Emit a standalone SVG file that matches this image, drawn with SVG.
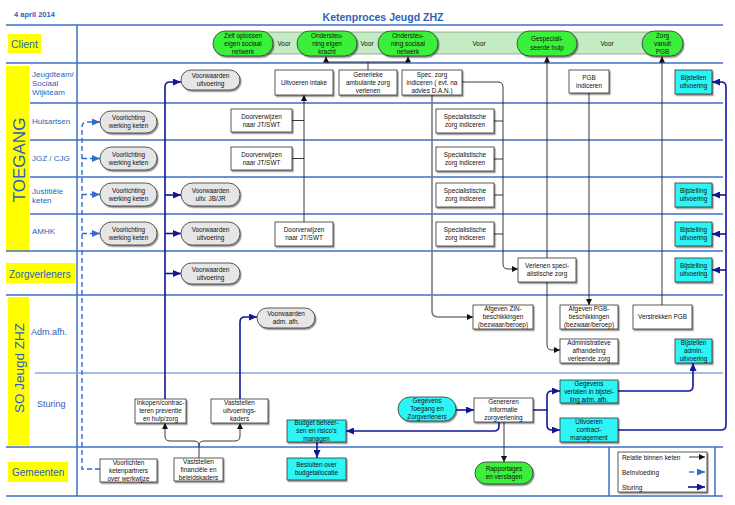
<svg xmlns="http://www.w3.org/2000/svg" width="735" height="505" viewBox="0 0 735 505">
<style>
.lane{stroke:#3f70c6;stroke-width:1.5;fill:none}
.lane2{stroke:#86a8df;stroke-width:1.3;fill:none}
.lbl{font-family:"Liberation Sans",Arial,sans-serif;fill:#2d5fb8}
.box{fill:#fff;stroke:#333;stroke-width:0.8;filter:url(#sh)}
.gray{fill:#e6e6e6;stroke:#333;stroke-width:0.8;filter:url(#sh)}
.cyan{fill:#2ef5f5;stroke:#333;stroke-width:0.8;filter:url(#sh)}
.green{fill:#3bf03b;stroke:#333;stroke-width:0.8;filter:url(#sh)}
.t{font-family:"Liberation Sans",Arial,sans-serif;font-size:6.4px;text-anchor:middle;fill:#111}
.ts{font-family:"Liberation Sans",Arial,sans-serif;font-size:6.4px;text-anchor:start;fill:#111}
.blk{stroke:#222;stroke-width:0.9;fill:none}
.gry{stroke:#7a7a7a;stroke-width:1.6;fill:none}
.nav{stroke:#12169a;stroke-width:1.6;fill:none}
.dsh{stroke:#2f6cc9;stroke-width:1.4;stroke-dasharray:5 3;fill:none}
</style>
<defs>
<filter id="sh" x="-10%" y="-10%" width="130%" height="140%"><feDropShadow dx="1.2" dy="1.5" stdDeviation="0.7" flood-color="#000" flood-opacity="0.45"/></filter>
<marker id="ab" markerUnits="userSpaceOnUse" markerWidth="6" markerHeight="6" refX="6" refY="3" orient="auto"><path d="M0,0 L6,3 L0,6 z" fill="#111"/></marker>
<marker id="an" markerUnits="userSpaceOnUse" markerWidth="8" markerHeight="7" refX="8" refY="3.5" orient="auto"><path d="M0,0 L8,3.5 L0,7 z" fill="#12169a"/></marker>
<marker id="ad" markerUnits="userSpaceOnUse" markerWidth="8" markerHeight="7" refX="8" refY="3.5" orient="auto"><path d="M0,0 L8,3.5 L0,7 z" fill="#2f6cc9"/></marker>
</defs>
<rect width="735" height="505" fill="#fff"/>

<!-- titles -->
<text class="lbl" x="14" y="17" font-size="7.5" font-weight="bold">4 april 2014</text>
<text class="lbl" x="383" y="20.5" font-size="10.5" font-weight="bold" text-anchor="middle">Ketenproces Jeugd ZHZ</text>

<!-- yellow label areas -->
<g id="lane-labels">
<rect x="8" y="34" width="33" height="19" fill="#ffff00"/>
<text class="lbl" x="11" y="47.5" font-size="10.5">Client</text>
<rect x="6" y="66" width="23" height="185" fill="#ffff00"/>
<text class="lbl" transform="translate(24.5,160) rotate(-90)" font-size="17" text-anchor="middle">TOEGANG</text>
<rect x="6" y="263" width="69" height="20" fill="#ffff00"/>
<text class="lbl" x="9" y="277.5" font-size="10">Zorgverleners</text>
<rect x="8" y="297" width="21" height="148" fill="#ffff00"/>
<text class="lbl" transform="translate(24,368) rotate(-90)" font-size="13.5" text-anchor="middle">SO Jeugd ZHZ</text>
<rect x="8" y="462" width="60" height="20" fill="#ffff00"/>
<text class="lbl" x="12" y="476" font-size="10">Gemeenten</text>
<text class="lbl" font-size="8"><tspan x="32" y="77">Jeugdteam/</tspan><tspan x="32" y="86">Sociaal</tspan><tspan x="32" y="95">Wijkteam</tspan></text>
<text class="lbl" x="32" y="124" font-size="8">Huisartsen</text>
<text class="lbl" x="32" y="161" font-size="8">JGZ / CJG</text>
<text class="lbl" font-size="8"><tspan x="32" y="194">Justitiële</tspan><tspan x="32" y="203">keten</tspan></text>
<text class="lbl" x="32" y="234" font-size="8">AMHK</text>
<text class="lbl" x="31" y="335" font-size="9">Adm.afh.</text>
<text class="lbl" x="37" y="407" font-size="9">Sturing</text>
</g>

<!-- grid -->
<g id="grid">
<path class="lane" d="M6,25 H723 M6,63 H723 M30,103 H723 M30,140 H723 M30,177 H723 M30,214 H723 M6,251 H723 M6,295 H723 M6,447 H723 M6,496 H723 M77,25 V496 M609,447 V496 M715,447 V496"/>
<path class="lane2" d="M35,373 H723"/>
</g>

<!-- client band -->
<g id="client-band">
<rect x="243" y="32" width="420" height="22" fill="#c3ecc3" stroke="#777" stroke-width="0.6"/>
<text class="t" x="284" y="45.5">Voor</text>
<text class="t" x="367" y="45.5">Voor</text>
<text class="t" x="479" y="45.5">Voor</text>
<text class="t" x="607" y="45.5">Voor</text>
</g>
<g id="c1"><rect class="green" x="213" y="31" width="60" height="25" rx="12.5"/><text class="t"><tspan x="243" y="37.8">Zelf oplossen</tspan><tspan x="243" y="45.8">eigen sociaal</tspan><tspan x="243" y="53.8">netwerk</tspan></text></g>
<g id="c2"><rect class="green" x="297" y="31" width="60" height="25" rx="12.5"/><text class="t"><tspan x="327" y="37.8">Ondersteu-</tspan><tspan x="327" y="45.8">ning eigen</tspan><tspan x="327" y="53.8">kracht</tspan></text></g>
<g id="c3"><rect class="green" x="378" y="31" width="60" height="25" rx="12.5"/><text class="t"><tspan x="408" y="37.8">Ondersteu-</tspan><tspan x="408" y="45.8">ning sociaal</tspan><tspan x="408" y="53.8">netwerk</tspan></text></g>
<g id="c4"><rect class="green" x="517" y="31" width="60" height="25" rx="12.5"/><text class="t"><tspan x="547" y="41">Gespeciali-</tspan><tspan x="547" y="49.5">seerde hulp</tspan></text></g>
<g id="c5"><rect class="green" x="642" y="31" width="41" height="25" rx="12.5"/><text class="t"><tspan x="662.5" y="37.8">Zorg</tspan><tspan x="662.5" y="45.8">vanuit</tspan><tspan x="662.5" y="53.8">PGB</tspan></text></g>

<!-- connectors -->
<g id="connectors">
<path class="blk" d="M368,70 V62"/>
<path class="blk" d="M368,62 H326 V56.5" marker-end="url(#ab)"/>
<path class="blk" d="M368,62 H408 V56.5" marker-end="url(#ab)"/>
<path class="blk" d="M304,222 V95" marker-end="url(#ab)"/>
<path class="blk" d="M292,120.5 H304 M292,158.5 H304"/>
<path class="gry" d="M432,95 V311 Q432,317 438,317 H473" marker-end="url(#ab)"/>
<path class="blk" d="M462,82 H498 Q503,82 503,87 V264 Q503,269 508,269 H518" marker-end="url(#ab)"/>
<path class="blk" d="M494,121 H503 M494,159 H503 M494,195 H503 M494,234 H503"/>
<path class="blk" d="M547,258 V56.5" marker-end="url(#ab)"/>
<path class="blk" d="M547,282 V345 Q547,350 552,350 H560" marker-end="url(#ab)"/>
<path class="blk" d="M589,93 V305" marker-end="url(#ab)"/>
<path class="blk" d="M662,305 V56.5" marker-end="url(#ab)"/>
<path class="blk" d="M199,458 V446 Q199,441 194,441 H170 Q165,441 165,436 V423" marker-end="url(#ab)"/>
<path class="blk" d="M199,446 Q199,441 204,441 H235 Q240,441 240,436 V423" marker-end="url(#ab)"/>
<path class="blk" d="M504,422 V462" marker-end="url(#ab)"/>

<path class="nav" d="M165,399 V87 Q165,82 170,82 H181" marker-end="url(#an)"/>
<path class="nav" d="M165,195 H181" marker-end="url(#an)"/>
<path class="nav" d="M165,233.5 H181" marker-end="url(#an)"/>
<path class="nav" d="M165,273.5 H181" marker-end="url(#an)"/>
<path class="nav" d="M240,399 V322 Q240,317 245,317 H257" marker-end="url(#an)"/>
<path class="nav" d="M456,410 H474" marker-end="url(#an)"/>
<path class="nav" d="M499,422 V426 Q499,431 494,431 H346" marker-end="url(#an)"/>
<path class="nav" d="M533,410 H547 V396 Q547,391 552,391 H560" marker-end="url(#an)"/>
<path class="nav" d="M547,410 V425 Q547,430 552,430 H560" marker-end="url(#an)"/>
<path class="nav" d="M618,391 H688 Q693,391 693,386 V363" marker-end="url(#an)"/>
<path class="nav" d="M618,430 H721 Q726,430 726,425 V87 Q726,82 721,82 H712" marker-end="url(#an)"/>
<path class="nav" d="M726,195 H712" marker-end="url(#an)"/>
<path class="nav" d="M726,234 H712" marker-end="url(#an)"/>
<path class="nav" d="M726,270 H712" marker-end="url(#an)"/>
<path class="nav" d="M317,442 V458" marker-end="url(#an)"/>

<path class="dsh" d="M100,469 H82 V127 Q82,122 87,122 H100" marker-end="url(#ad)"/>
<path class="dsh" d="M82,158.5 H100" marker-end="url(#ad)"/>
<path class="dsh" d="M82,194.5 H100" marker-end="url(#ad)"/>
<path class="dsh" d="M82,233.5 H100" marker-end="url(#ad)"/>
</g>

<!-- Jeugdteam row -->
<g id="vw-jt"><rect class="gray" x="181" y="70" width="59" height="20" rx="10"/><text class="t"><tspan x="210.5" y="78.3">Voorwaarden</tspan><tspan x="210.5" y="86.3">uitvoering</tspan></text></g>
<g id="intake"><rect class="box" x="275" y="70" width="58" height="25"/><text class="t" x="304" y="84.8">Uitvoeren intake</text></g>
<g id="generiek"><rect class="box" x="339" y="70" width="58" height="25"/><text class="t"><tspan x="368" y="76.8">Generieke</tspan><tspan x="368" y="84.8">ambulante zorg</tspan><tspan x="368" y="92.8">verlenen</tspan></text></g>
<g id="spec"><rect class="box" x="402" y="70" width="60" height="25"/><text class="t"><tspan x="432" y="76.8">Spec. zorg</tspan><tspan x="432" y="84.8">indiceren ( evt. na</tspan><tspan x="432" y="92.8">advies D.A.N.)</tspan></text></g>
<g id="pgb-ind"><rect class="box" x="569" y="70" width="40" height="23"/><text class="t"><tspan x="589" y="79.8">PGB</tspan><tspan x="589" y="87.8">indiceren</tspan></text></g>
<g id="bij-jt"><rect class="cyan" x="675" y="70" width="37" height="24"/><text class="t"><tspan x="693.5" y="80.3">Bijstellen</tspan><tspan x="693.5" y="88.3">uitvoering</tspan></text></g>

<!-- Huisartsen -->
<g id="vl-ha"><rect class="gray" x="100" y="111" width="57" height="22" rx="11"/><text class="t"><tspan x="128.5" y="120.3">Voorlichting</tspan><tspan x="128.5" y="128.3">werking keten</tspan></text></g>
<g id="dv-ha"><rect class="box" x="231" y="109" width="61" height="23"/><text class="t"><tspan x="261.5" y="118.8">Doorverwijzen</tspan><tspan x="261.5" y="126.8">naar JT/SWT</tspan></text></g>
<g id="sz-ha"><rect class="box" x="436" y="109" width="58" height="24"/><text class="t"><tspan x="465" y="119.3">Specialistische</tspan><tspan x="465" y="127.3">zorg indiceren</tspan></text></g>

<!-- JGZ -->
<g id="vl-jgz"><rect class="gray" x="100" y="147" width="57" height="23" rx="11.5"/><text class="t"><tspan x="128.5" y="156.8">Voorlichting</tspan><tspan x="128.5" y="164.8">werking keten</tspan></text></g>
<g id="dv-jgz"><rect class="box" x="231" y="147" width="61" height="23"/><text class="t"><tspan x="261.5" y="156.8">Doorverwijzen</tspan><tspan x="261.5" y="164.8">naar JT/SWT</tspan></text></g>
<g id="sz-jgz"><rect class="box" x="436" y="147" width="58" height="24"/><text class="t"><tspan x="465" y="157.3">Specialistische</tspan><tspan x="465" y="165.3">zorg indiceren</tspan></text></g>

<!-- Justitiele -->
<g id="vl-jus"><rect class="gray" x="100" y="183" width="57" height="23" rx="11.5"/><text class="t"><tspan x="128.5" y="192.8">Voorlichting</tspan><tspan x="128.5" y="200.8">werking keten</tspan></text></g>
<g id="vw-jus"><rect class="gray" x="181" y="183" width="59" height="23" rx="11.5"/><text class="t"><tspan x="210.5" y="192.8">Voorwaarden</tspan><tspan x="210.5" y="200.8">uitv. JB/JR</tspan></text></g>
<g id="sz-jus"><rect class="box" x="436" y="183" width="58" height="24"/><text class="t"><tspan x="465" y="193.3">Specialistische</tspan><tspan x="465" y="201.3">zorg indiceren</tspan></text></g>
<g id="bij-jus"><rect class="cyan" x="675" y="183" width="37" height="24"/><text class="t"><tspan x="693.5" y="193.3">Bijstelling</tspan><tspan x="693.5" y="201.3">uitvoering</tspan></text></g>

<!-- AMHK -->
<g id="vl-amhk"><rect class="gray" x="100" y="222" width="57" height="23" rx="11.5"/><text class="t"><tspan x="128.5" y="231.8">Voorlichting</tspan><tspan x="128.5" y="239.8">werking keten</tspan></text></g>
<g id="vw-amhk"><rect class="gray" x="181" y="222" width="59" height="23" rx="11.5"/><text class="t"><tspan x="210.5" y="231.8">Voorwaarden</tspan><tspan x="210.5" y="239.8">uitvoering</tspan></text></g>
<g id="dv-amhk"><rect class="box" x="275" y="222" width="58" height="24"/><text class="t"><tspan x="304" y="232.3">Doorverwijzen</tspan><tspan x="304" y="240.3">naar JT/SWT</tspan></text></g>
<g id="sz-amhk"><rect class="box" x="436" y="222" width="58" height="24"/><text class="t"><tspan x="465" y="232.3">Specialistische</tspan><tspan x="465" y="240.3">zorg indiceren</tspan></text></g>
<g id="bij-amhk"><rect class="cyan" x="675" y="222" width="37" height="24"/><text class="t"><tspan x="693.5" y="232.3">Bijstelling</tspan><tspan x="693.5" y="240.3">uitvoering</tspan></text></g>

<!-- Zorgverleners -->
<g id="vw-zv"><rect class="gray" x="181" y="263" width="59" height="21" rx="10.5"/><text class="t"><tspan x="210.5" y="271.8">Voorwaarden</tspan><tspan x="210.5" y="279.8">uitvoering</tspan></text></g>
<g id="verlenen"><rect class="box" x="518" y="258" width="58" height="24"/><text class="t"><tspan x="547" y="268.3">Verlenen speci-</tspan><tspan x="547" y="276.3">alistische zorg</tspan></text></g>
<g id="bij-zv"><rect class="cyan" x="675" y="258" width="37" height="24"/><text class="t"><tspan x="693.5" y="268.3">Bijstelling</tspan><tspan x="693.5" y="276.3">uitvoering</tspan></text></g>

<!-- Adm.afh. -->
<g id="vw-adm"><rect class="gray" x="257" y="308" width="58" height="20" rx="10"/><text class="t"><tspan x="286" y="316.3">Voorwaarden</tspan><tspan x="286" y="324.3">adm. afh.</tspan></text></g>
<g id="zin"><rect class="box" x="473" y="305" width="60" height="24"/><text class="t"><tspan x="503" y="311.3">Afgeven ZIN-</tspan><tspan x="503" y="319.3">beschikkingen</tspan><tspan x="503" y="327.3">(bezwaar/beroep)</tspan></text></g>
<g id="pgb-besch"><rect class="box" x="560" y="305" width="58" height="24"/><text class="t"><tspan x="589" y="311.3">Afgeven PGB-</tspan><tspan x="589" y="319.3">beschikkingen</tspan><tspan x="589" y="327.3">(bezwaar/beroep)</tspan></text></g>
<g id="verstrekken"><rect class="box" x="633" y="305" width="59" height="24"/><text class="t" x="662.5" y="319.3">Verstrekken PGB</text></g>
<g id="admin-afh"><rect class="box" x="560" y="339" width="58" height="24"/><text class="t"><tspan x="589" y="345.3">Administratieve</tspan><tspan x="589" y="353.3">afhandeling</tspan><tspan x="589" y="361.3">verleende zorg</tspan></text></g>
<g id="bij-adm"><rect class="cyan" x="675" y="339" width="37" height="24"/><text class="t"><tspan x="693.5" y="345.3">Bijstellen</tspan><tspan x="693.5" y="353.3">admin.</tspan><tspan x="693.5" y="361.3">uitvoering</tspan></text></g>

<!-- Sturing -->
<g id="inkopen"><rect class="box" x="135" y="399" width="51" height="24"/><text class="t"><tspan x="160.5" y="405.3">Inkopen/contrac-</tspan><tspan x="160.5" y="413.3">teren preventie</tspan><tspan x="160.5" y="421.3">en hulp/zorg</tspan></text></g>
<g id="kaders"><rect class="box" x="211" y="399" width="57" height="24"/><text class="t"><tspan x="239.5" y="405.3">Vaststellen</tspan><tspan x="239.5" y="413.3">uitvoerings-</tspan><tspan x="239.5" y="421.3">kaders</tspan></text></g>
<g id="gegevens-toegang"><rect class="cyan" x="398" y="397" width="58" height="24" rx="12"/><text class="t"><tspan x="427" y="403.3">Gegevens</tspan><tspan x="427" y="411.3">Toegang en</tspan><tspan x="427" y="419.3">Zorgverleners</tspan></text></g>
<g id="genereren"><rect class="box" x="474" y="398" width="59" height="24"/><text class="t"><tspan x="503.5" y="404.3">Genereren</tspan><tspan x="503.5" y="412.3">informatie</tspan><tspan x="503.5" y="420.3">zorgverlening</tspan></text></g>
<g id="gegevens-vertalen"><rect class="cyan" x="560" y="380" width="58" height="23"/><text class="t"><tspan x="589" y="385.8">Gegevens</tspan><tspan x="589" y="393.8">vertalen in bijstel-</tspan><tspan x="589" y="401.8">ling adm. afh.</tspan></text></g>
<g id="contract"><rect class="cyan" x="560" y="418" width="58" height="24"/><text class="t"><tspan x="589" y="424.3">Uitvoeren</tspan><tspan x="589" y="432.3">contract-</tspan><tspan x="589" y="440.3">management</tspan></text></g>
<g id="budget"><rect class="cyan" x="287" y="420" width="59" height="22"/><text class="t"><tspan x="316.5" y="425.3">Budget beheer-</tspan><tspan x="316.5" y="433.3">sen en risico's</tspan><tspan x="316.5" y="441.3">managen</tspan></text></g>

<!-- Gemeenten -->
<g id="voorlichten"><rect class="box" x="100" y="459" width="57" height="23"/><text class="t"><tspan x="128.5" y="464.8">Voorlichten</tspan><tspan x="128.5" y="472.8">ketenpartners</tspan><tspan x="128.5" y="480.8">over werkwijze</tspan></text></g>
<g id="financieel"><rect class="box" x="174" y="458" width="49" height="23"/><text class="t"><tspan x="198.5" y="463.8">Vaststellen</tspan><tspan x="198.5" y="471.8">financiële en</tspan><tspan x="198.5" y="479.8">beleidskaders</tspan></text></g>
<g id="besluiten"><rect class="cyan" x="287" y="458" width="59" height="22"/><text class="t"><tspan x="316.5" y="467.3">Besluiten over</tspan><tspan x="316.5" y="475.3">budgetallocatie</tspan></text></g>
<g id="rapportages"><rect class="green" x="475" y="462" width="58" height="22" rx="11"/><text class="t"><tspan x="504" y="471.3">Rapportages</tspan><tspan x="504" y="479.3">en verslagen</tspan></text></g>

<!-- legend -->
<g id="legend">
<rect class="box" x="618" y="452" width="89" height="40"/>
<text class="ts" x="622" y="459.5">Relatie binnen keten</text>
<text class="ts" x="622" y="474.5">Beïnvloeding</text>
<text class="ts" x="622" y="489.5">Sturing</text>
<path class="blk" d="M689,457 H705" marker-end="url(#ab)"/>
<path d="M689,472 H694" stroke="#2f6cc9" stroke-width="1.4"/>
<path d="M697,472 H705" stroke="#2f6cc9" stroke-width="1.4" marker-end="url(#ad)"/>
<path class="nav" d="M688,487 H705" marker-end="url(#an)"/>
</g>
</svg>
